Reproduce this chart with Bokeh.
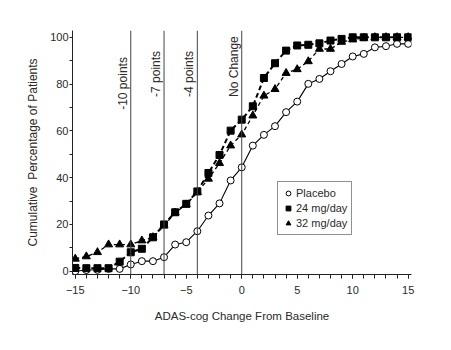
import math
from bokeh.plotting import figure
from bokeh.models import (Range1d, FixedTicker, Span, Legend, LegendItem,
                          ColumnDataSource)
from bokeh.core.properties import value
from bokeh.embed import file_html
from bokeh.resources import INLINE

# ---- data ----
change = list(range(-15, 16))
placebo = [0, 0.5, 0.6, 1, 1, 2.9, 4.3, 4.3, 6, 11.4, 12.4, 17.1, 23.8, 29,
           38.8, 44.4, 53.7, 58.3, 62, 68, 72.5, 80.1, 82.2, 85.5, 88.6, 91.8,
           92.9, 95.7, 96.2, 97.2, 97.2]
mg24 = [1.4, 1.3, 1.3, 1.3, 4.1, 8.1, 9.6, 14.5, 20, 25.2, 28.8, 34.1, 42,
        49.7, 60.1, 64.8, 70.5, 82.6, 88.9, 94.3, 96.5, 96.8, 97.4, 98.6,
        99.3, 100, 100, 100, 100, 100, 100]
mg32 = [5.3, 6.3, 8.1, 11.4, 11.4, 11.4, 13.1, 14.5, 19.5, 25, 28.5, 33.8,
        39.5, 46.2, 53.7, 58.4, 66.5, 75, 77.8, 84.7, 86.3, 89.7, 95, 95, 98,
        99, 99.7, 100, 100, 100, 100]
ref_lines = [-10, -7, -4, 0]
ref_labels = ["-10 points", "-7 points", "-4 points", "No Change"]
ref_label_y = [69, 74.5, 74.5, 74.5]
x_ticks = [-15, -10, -5, 0, 5, 10, 15]
y_ticks = [0, 20, 40, 60, 80, 100]

FONT = "Liberation Sans"
TXT = "#2a2a2a"

p = figure(width=451, height=350, output_backend="svg", toolbar_location=None,
           x_range=Range1d(-15.25, 15.3), y_range=Range1d(-1.4, 102.9),
           min_border_left=72, min_border_right=40, min_border_top=30,
           min_border_bottom=76)
p.outline_line_color = None
p.grid.visible = False
p.background_fill_color = "white"
p.border_fill_color = "white"

# axes
xa = p.xaxis[0]
xa.ticker = FixedTicker(ticks=x_ticks, minor_ticks=change)
xa.major_tick_out = 4
xa.major_tick_in = 0
xa.minor_tick_out = 4
xa.minor_tick_in = 0
xa.major_label_standoff = 7
xa.axis_label = "ADAS-cog Change From Baseline"
xa.axis_label_standoff = 13
ya = p.yaxis[0]
ya.ticker = FixedTicker(ticks=y_ticks, minor_ticks=[10, 30, 50, 70, 90])
ya.major_tick_out = 3
ya.major_tick_in = 0
ya.minor_tick_out = 3
ya.minor_tick_in = 0
ya.major_label_standoff = 1
ya.axis_label = "Cumulative\u00a0 Percentage of Patients"
ya.axis_label_standoff = 7
for ax in (xa, ya):
    ax.axis_line_color = "#222"
    ax.major_tick_line_color = "#222"
    ax.minor_tick_line_color = "#222"
    ax.major_label_text_font = FONT
    ax.major_label_text_font_size = "11px"
    ax.major_label_text_color = TXT
    ax.axis_label_text_font = FONT
    ax.axis_label_text_font_style = "normal"
    ax.axis_label_text_color = TXT
xa.axis_label_text_font_size = "11.5px"
ya.axis_label_text_font_size = "12px"

# reference lines
for xv in ref_lines:
    p.add_layout(Span(location=xv, dimension="height", line_color="#444",
                      line_width=1))
p.text(x=ref_lines, y=ref_label_y, text=ref_labels, angle=math.pi / 2,
       x_offset=-8, text_align="left", text_baseline="middle",
       text_font=value(FONT), text_font_size="12px", text_color=TXT)

# series
src = ColumnDataSource(dict(x=change, p=placebo, a=mg24, b=mg32))
p.line("x", "p", source=src, line_color="black", line_width=1.1)
r_p = p.scatter("x", "p", source=src, marker="circle", size=7,
                fill_color="white", line_color="black", line_width=1)
p.line("x", "a", source=src, line_color="black", line_width=2,
       line_dash="5 3")
r_a = p.scatter("x", "a", source=src, marker="square", size=7,
                fill_color="black", line_color="black")
p.line("x", "b", source=src, line_color="black", line_width=1.3,
       line_dash="4 3")
r_b = p.scatter("x", "b", source=src, marker="triangle", size=8,
                fill_color="black", line_color="black")

legend = Legend(items=[LegendItem(label="Placebo", renderers=[r_p]),
                       LegendItem(label="24 mg/day", renderers=[r_a]),
                       LegendItem(label="32 mg/day", renderers=[r_b])],
                location=(205, 39))
legend.label_text_font = FONT
legend.label_text_font_size = "11px"
legend.label_text_color = TXT
legend.label_height = 13
legend.glyph_height = 14
legend.glyph_width = 12
legend.label_standoff = 2
legend.spacing = 1
legend.padding = 4
legend.margin = 0
legend.border_line_color = "#222"
legend.border_line_width = 1
legend.background_fill_alpha = 1
p.add_layout(legend, "center")

open("out.html", "w").write(file_html(p, INLINE))
